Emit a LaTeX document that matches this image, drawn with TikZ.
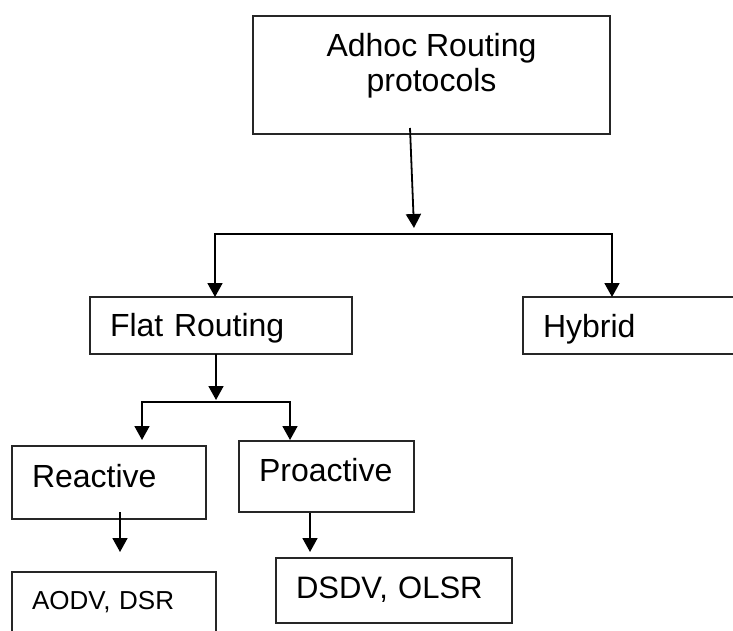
\documentclass[tikz,border=0pt]{standalone}
\usepackage{fontspec}
\setmainfont{Liberation Sans}
\usetikzlibrary{arrows.meta}
\tikzset{
      protobox/.style={
        draw=black!85,
        line width=1.8pt,
        anchor=north west,
        inner ysep=0pt,
        inner xsep=20pt,
        outer sep=0pt,
        align=left,
        text height=23pt,
        font=\fontsize{32}{35}\selectfont
      },
      arrowline/.style={
        -{Triangle[length=14pt,width=15pt]},
        line width=1.8pt,
        color=black
      }
    }
\begin{document}
\begin{tikzpicture}[x=1pt,y=-1pt]
    \useasboundingbox (0,0) rectangle (733,631);
    \clip (0,0) rectangle (733,631);
    \node[protobox, align=center, inner xsep=0pt, minimum width=357pt, minimum height=118pt, text height=58pt, text depth=24pt] (adhoc) at (253,16) {Adhoc Routing\\protocols};
    \node[protobox, text width=222pt, minimum height=57pt, text depth=2pt] (flat) at (90,297) {Flat Routing};
    \node[protobox, text width=240pt, minimum height=57pt, text depth=0pt] (hybrid) at (523,297) {Hybrid};
    \node[protobox, text width=154pt, minimum height=73pt, text depth=14pt] (reactive) at (12,446) {Reactive};
    \node[protobox, text width=135pt, minimum height=71pt, text depth=14pt] (proactive) at (239,441) {Proactive};
    \node[protobox, text width=164pt, minimum height=70pt, text height=19pt, text depth=15pt, font=\fontsize{26}{30}\selectfont] (aodv) at (12,572) {AODV, DSR};
    \node[protobox, text width=196pt, minimum height=65pt, text depth=8pt, font=\fontsize{31}{35}\selectfont] (dsdv) at (276,558) {DSDV, OLSR};
    \coordinate (split1) at (413,234);
    \coordinate (split2) at (216,402);
    \draw[arrowline] ([xshift=-21.5pt,yshift=6pt]adhoc.south) -- ([xshift=1pt,yshift=6pt]split1);
    \draw[arrowline] (split1) -| ([xshift=-6pt]flat.north);
    \draw[arrowline] (split1) -| ([xshift=89pt]hybrid.north west);
    \draw[arrowline] ([xshift=-5pt]flat.south) -- ([yshift=2pt]split2);
    \draw[arrowline] (split2) -| ([xshift=33pt,yshift=6pt]reactive.north);
    \draw[arrowline] (split2) -| ([xshift=-36.5pt,yshift=1pt]proactive.north);
    \draw[arrowline] ([xshift=11pt,yshift=7pt]reactive.south) -- ([xshift=6pt,yshift=20pt]aodv.north);
    \draw[arrowline] ([xshift=-16.5pt,yshift=-1pt]proactive.south) -- ([xshift=-84pt,yshift=6pt]dsdv.north);
    \end{tikzpicture}
\end{document}
